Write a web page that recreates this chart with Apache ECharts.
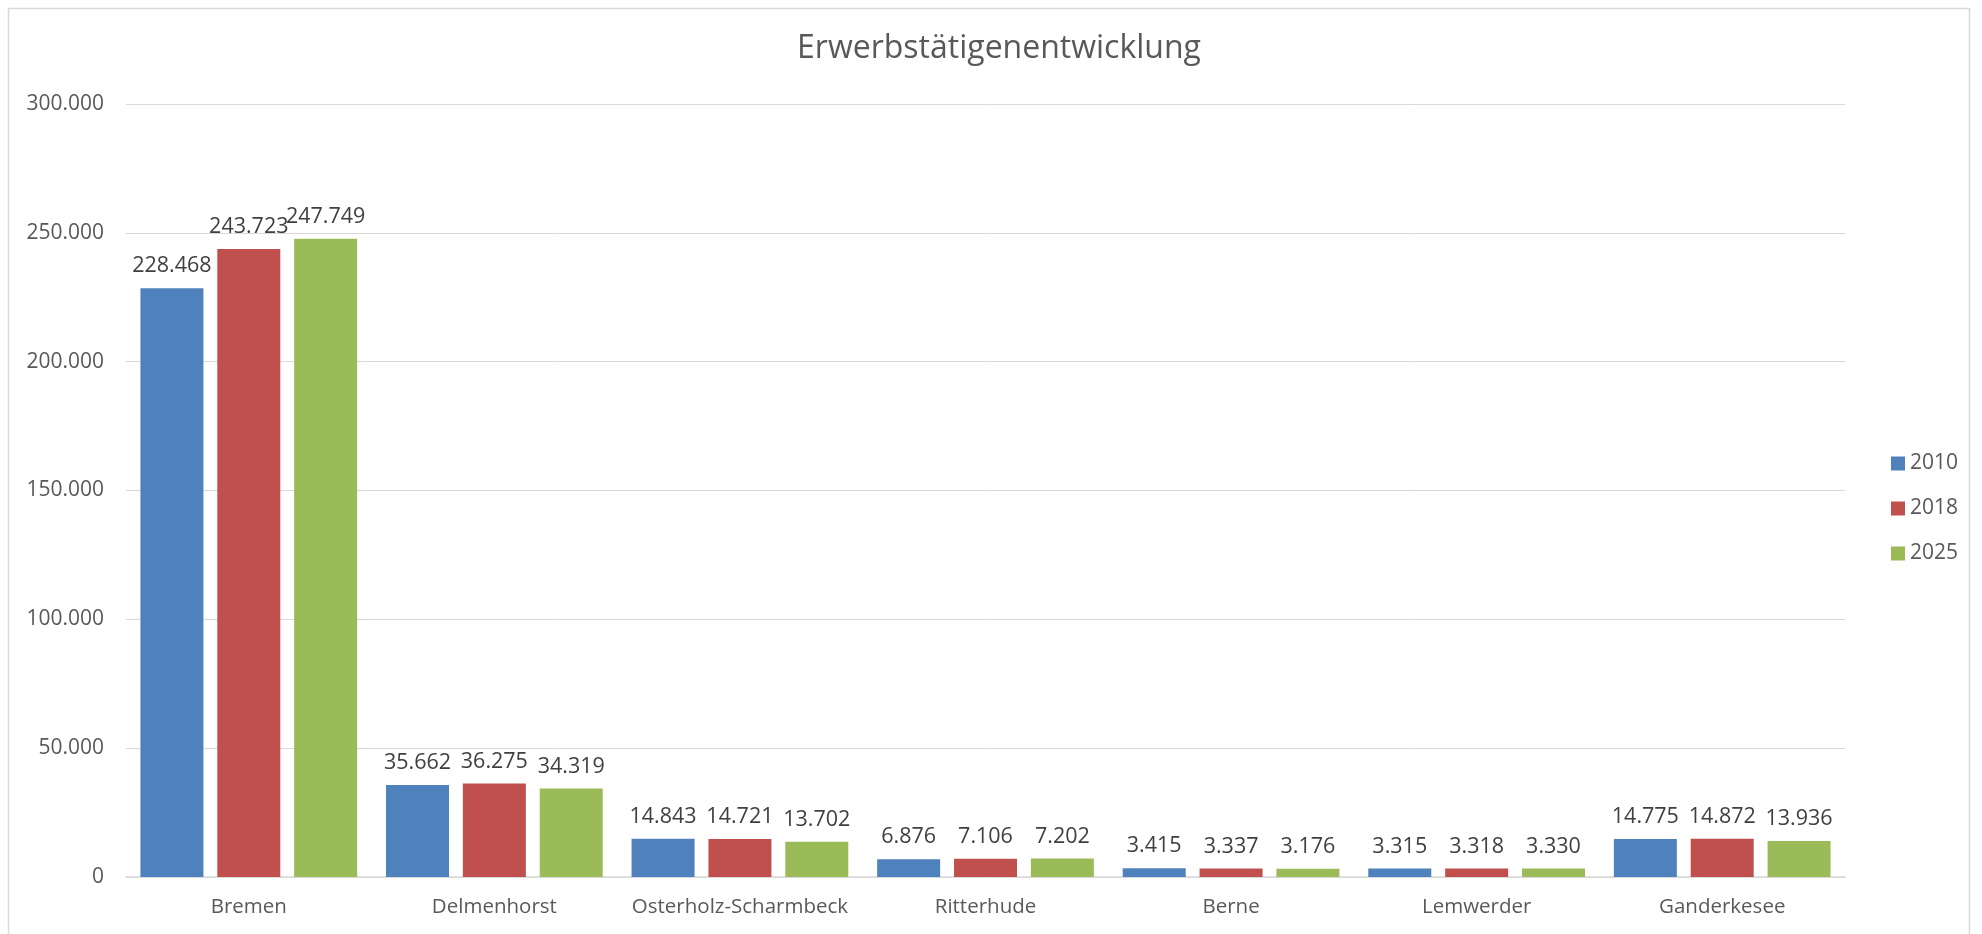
<!DOCTYPE html>
<html>
<head>
<meta charset="utf-8">
<script src="https://cdn.jsdelivr.net/npm/echarts@6/dist/echarts.min.js"></script>
<style>
html,body{margin:0;padding:0;background:#fff;}
#chart{width:1982px;height:934px;}
</style>
</head>
<body>
<div id="chart"></div>
<script>
const title = 'Erwerbstätigenentwicklung';
const categories = ['Bremen','Delmenhorst','Osterholz-Scharmbeck','Ritterhude','Berne','Lemwerder','Ganderkesee'];
const seriesNames = ['2010','2018','2025'];
const values2010 = [228468, 35662, 14843, 6876, 3415, 3315, 14775];
const values2018 = [243723, 36275, 14721, 7106, 3337, 3318, 14872];
const values2025 = [247749, 34319, 13702, 7202, 3176, 3330, 13936];
const yTicks = [0, 50000, 100000, 150000, 200000, 250000, 300000];
const colors = ['#4F81BD','#C0504D','#9BBB59'];

function de(v){
  return String(Math.round(v)).replace(/\B(?=(\d{3})+(?!\d))/g, '.');
}

const FONT = '"Open Sans", "Noto Sans", sans-serif';
const chart = echarts.init(document.getElementById('chart'), null, {renderer:'canvas'});
const allValues = [values2010, values2018, values2025];

chart.setOption({
  animation: false,
  backgroundColor: '#ffffff',
  color: colors,
  title: {
    text: title,
    left: 994, top: 28,
    textAlign: 'center',
    textStyle: {fontFamily: FONT, fontSize: 32, fontWeight: 'normal', color: '#595959'}
  },
  graphic: [{
    type: 'rect', left: 6, top: 6, silent: true,
    shape: {width: 1961, height: 940},
    style: {fill: 'none', stroke: '#d9d9d9', lineWidth: 1.5}
  }],
  legend: {
    orient: 'vertical',
    left: 1886, top: 447,
    itemWidth: 14, itemHeight: 14, itemGap: 22,
    icon: 'rect',
    data: seriesNames,
    textStyle: {fontFamily: FONT, fontSize: 21, color: '#595959', lineHeight: 23}
  },
  grid: {left: 126, right: 137, top: 104, bottom: 57, containLabel: false},
  xAxis: {
    type: 'category',
    data: categories,
    axisLine: {show: true, lineStyle: {color: '#d9d9d9', width: 1.5}},
    axisTick: {show: false},
    axisLabel: {interval: 0, fontFamily: FONT, fontSize: 20.5, color: '#595959', margin: 20}
  },
  yAxis: {
    type: 'value',
    min: yTicks[0], max: yTicks[yTicks.length-1], interval: yTicks[1]-yTicks[0],
    axisLine: {show: false},
    axisTick: {show: false},
    splitLine: {lineStyle: {color: '#d9d9d9', width: 1}},
    axisLabel: {fontFamily: FONT, fontSize: 21, color: '#595959', margin: 22, formatter: de}
  },
  series: seriesNames.map((n, i) => ({
    name: n,
    type: 'bar',
    data: allValues[i],
    barWidth: 63,
    barGap: '22%',
    itemStyle: {color: colors[i]},
    label: {
      show: true, position: 'top', distance: 11,
      fontFamily: FONT, fontSize: 21.5, color: '#404040',
      formatter: p => de(p.value)
    }
  }))
});
</script>
</body>
</html>
